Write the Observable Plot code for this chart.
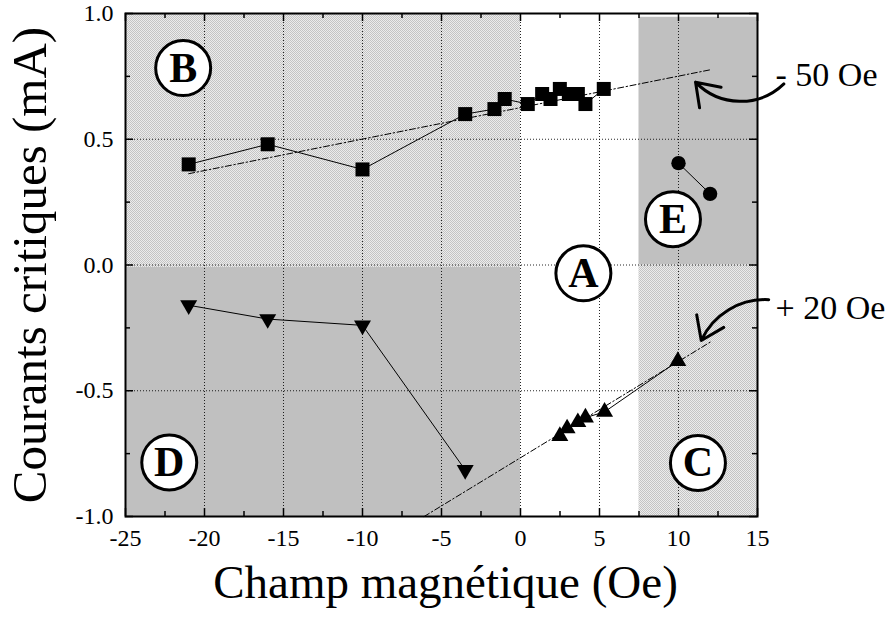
<!DOCTYPE html>
<html>
<head>
<meta charset="utf-8">
<script src="https://cdn.jsdelivr.net/npm/d3@7"></script>
<script src="https://cdn.jsdelivr.net/npm/@observablehq/plot@0.6"></script>
<style>
  html, body { margin: 0; padding: 0; background: white; }
  svg text { font-family: "Liberation Serif", "Times New Roman", Times, serif !important; }
</style>
</head>
<body>
<div id="chart"></div>
<script>
// ---- data ----
const squareX = [-21, -16, -10, -3.5, -1.65, -1.0, 0.46, 1.37, 1.9, 2.49, 3.06, 3.63, 4.11, 5.27];
const squareY = [0.40, 0.48, 0.38, 0.60, 0.62, 0.66, 0.64, 0.68, 0.66, 0.70, 0.68, 0.68, 0.64, 0.70];

const downX = [-21, -16, -10, -3.5];
const downY = [-0.16, -0.215, -0.24, -0.815];

const upX = [2.49, 2.95, 3.63, 4.11, 5.32, 9.96];
const upY = [-0.68, -0.65, -0.625, -0.607, -0.584, -0.382];

const circleX = [10, 12];
const circleY = [0.405, 0.283];

const fitMinus50X = [-21, 12];
const fitMinus50Y = [0.363, 0.776];
const fitPlus20X = [-6.1, 12];
const fitPlus20Y = [-1.0, -0.307];

// shaded regions: B, D, E, C
const regionX1 = [-25, -25, 7.5, 7.5];
const regionX2 = [0, 0, 15, 15];
const regionY1 = [-0.01, -1, 0, -1];
const regionY2 = [1, -0.01, 0.985, 0];
const regionKind = ["stipple", "gray", "gray", "stipple"];

// circled region labels
const labelText = ["A", "B", "C", "D", "E"];
const labelX = [3.98, -21.35, 11.23, -22.23, 9.65];
const labelY = [-0.033, 0.783, -0.787, -0.785, 0.182];

// annotations
const annText = ["- 50 Oe", "+ 20 Oe"];
const annX = [16.14, 16.14];
const annY = [0.757, -0.173];
const arrowX1 = [16.67, 15.71];
const arrowY1 = [0.72, -0.138];
const arrowX2 = [11.08, 11.44];
const arrowY2 = [0.727, -0.30];
const arrowBend = [45, -34];

// axes
const xTicks = [-25, -20, -15, -10, -5, 0, 5, 10, 15];
const xMinorTicks = [-22.5, -17.5, -12.5, -7.5, -2.5, 2.5, 7.5, 12.5];
const yTicks = [-1, -0.5, 0, 0.5, 1];
const yMinorTicks = [-0.75, -0.25, 0.25, 0.75];
const xGrid = [-20, -15, -10, -5, 0, 5, 10];
const yGrid = [-0.5, 0, 0.5];
const xTitle = "Champ magnétique (Oe)";
const yTitle = "Courants critiques (mA)";

// ---- build tables ----
const zip = (xs, ys) => xs.map((x, i) => ({x, y: ys[i]}));
const squares = zip(squareX, squareY);
const downs = zip(downX, downY);
const ups = zip(upX, upY);
const circles = zip(circleX, circleY);
const fitA = zip(fitMinus50X, fitMinus50Y);
const fitB = zip(fitPlus20X, fitPlus20Y);
const regions = regionX1.map((x1, i) => ({x1, x2: regionX2[i], y1: regionY1[i], y2: regionY2[i], kind: regionKind[i]}));
const labels = labelText.map((t, i) => ({t, x: labelX[i], y: labelY[i]}));
const anns = annText.map((t, i) => ({t, x: annX[i], y: annY[i]}));
const arrows = arrowX1.map((x1, i) => ({x1, y1: arrowY1[i], x2: arrowX2[i], y2: arrowY2[i]}));

const W = 890, H = 620;
const mL = 125, mR = 133, mT = 13, mB = 104;
const frameH = H - mT - mB;
const frameW = W - mL - mR;
const serif = "'Liberation Serif', 'Times New Roman', Times, serif";
const dash = "6,2.5,1.5,2.5";

const svg = Plot.plot({
  width: W,
  height: H,
  marginLeft: mL, marginRight: mR, marginTop: mT, marginBottom: mB,
  style: `font-family: ${serif}; background: white; color: black; overflow: visible;`,
  x: {domain: [-25, 15], axis: null},
  y: {domain: [-1, 1], axis: null},
  marks: [
    Plot.rect(regions.filter(d => d.kind === "gray"), {x1: "x1", x2: "x2", y1: "y1", y2: "y2", fill: "#c0c0c0"}),
    Plot.rect(regions.filter(d => d.kind === "stipple"), {x1: "x1", x2: "x2", y1: "y1", y2: "y2", fill: "url(#stipple)"}),
    Plot.ruleX(xGrid, {stroke: "black", strokeWidth: 1, strokeDasharray: "1,2", strokeOpacity: 0.85}),
    Plot.ruleY(yGrid, {stroke: "black", strokeWidth: 1, strokeDasharray: "1,2", strokeOpacity: 0.85}),
    // ticks (inward, all four sides)
    Plot.tickX(xTicks, {insetTop: frameH - 8, stroke: "black", strokeWidth: 1.5}),
    Plot.tickX(xMinorTicks, {insetTop: frameH - 5, stroke: "black", strokeWidth: 1.5}),
    Plot.tickX(xTicks, {insetBottom: frameH - 8, stroke: "black", strokeWidth: 1.5}),
    Plot.tickX(xMinorTicks, {insetBottom: frameH - 5, stroke: "black", strokeWidth: 1.5}),
    Plot.tickY(yTicks, {insetRight: frameW - 8, stroke: "black", strokeWidth: 1.5}),
    Plot.tickY(yMinorTicks, {insetRight: frameW - 5, stroke: "black", strokeWidth: 1.5}),
    Plot.tickY(yTicks, {insetLeft: frameW - 8, stroke: "black", strokeWidth: 1.5}),
    Plot.tickY(yMinorTicks, {insetLeft: frameW - 5, stroke: "black", strokeWidth: 1.5}),
    Plot.axisX(xTicks, {anchor: "bottom", tickSize: 0, tickPadding: 12, tickFormat: d => String(d), fontSize: 24, label: null}),
    Plot.axisY(yTicks, {anchor: "left", tickSize: 0, tickPadding: 12, tickFormat: d => d.toFixed(1), fontSize: 24, label: null}),
    // fit lines
    Plot.line(fitA, {x: "x", y: "y", stroke: "black", strokeWidth: 1, strokeDasharray: dash}),
    Plot.line(fitB, {x: "x", y: "y", stroke: "black", strokeWidth: 1, strokeDasharray: dash}),
    // data lines
    Plot.line(squares, {x: "x", y: "y", stroke: "black", strokeWidth: 1}),
    Plot.line(downs, {x: "x", y: "y", stroke: "black", strokeWidth: 1}),
    Plot.line(ups, {x: "x", y: "y", stroke: "black", strokeWidth: 1}),
    Plot.line(circles, {x: "x", y: "y", stroke: "black", strokeWidth: 1}),
    // markers
    Plot.dot(squares, {x: "x", y: "y", symbol: "square", r: 7.9, fill: "black", stroke: "none"}),
    Plot.dot(downs, {x: "x", y: "y", symbol: "triangle", rotate: 180, r: 6.3, fill: "black", stroke: "none"}),
    Plot.dot(ups, {x: "x", y: "y", symbol: "triangle", r: 6.3, fill: "black", stroke: "none"}),
    Plot.dot(circles, {x: "x", y: "y", symbol: "circle", r: 7.2, fill: "black", stroke: "none"}),
    // frame
    Plot.frame({stroke: "black", strokeWidth: 2}),
    // circled labels
    Plot.dot(labels, {x: "x", y: "y", r: 27.5, fill: "white", stroke: "black", strokeWidth: 3}),
    Plot.text(labels, {x: "x", y: "y", text: "t", fontSize: 42, fontWeight: "bold", fill: "black", lineAnchor: "middle"}),
    // annotations
    Plot.text(anns, {x: "x", y: "y", text: "t", fontSize: 34, textAnchor: "start", fill: "black", lineAnchor: "middle"}),
    Plot.arrow([arrows[0]], {x1: "x1", y1: "y1", x2: "x2", y2: "y2", bend: arrowBend[0], stroke: "black", strokeWidth: 3, headLength: 13, headAngle: 70}),
    Plot.arrow([arrows[1]], {x1: "x1", y1: "y1", x2: "x2", y2: "y2", bend: arrowBend[1], stroke: "black", strokeWidth: 3, headLength: 13, headAngle: 70}),
    // axis titles
    Plot.text([xTitle], {frameAnchor: "bottom", textAnchor: "middle", dx: 4, dy: 66, fontSize: 47, fill: "black", lineAnchor: "middle"}),
    Plot.text([yTitle], {frameAnchor: "left", textAnchor: "middle", dx: -95, dy: 0, rotate: -90, fontSize: 49, fill: "black", lineAnchor: "middle"})
  ]
});

const ns = "http://www.w3.org/2000/svg";
const defs = document.createElementNS(ns, "defs");
defs.innerHTML = '<pattern id="stipple" width="2" height="2" patternUnits="userSpaceOnUse">' +
  '<rect width="2" height="2" fill="#ececec"/>' +
  '<rect x="0" y="0" width="1" height="1" fill="#c4c4c4"/>' +
  '<rect x="1" y="1" width="1" height="1" fill="#c4c4c4"/></pattern>';
svg.insertBefore(defs, svg.firstChild);
document.getElementById("chart").appendChild(svg);
</script>
</body>
</html>
